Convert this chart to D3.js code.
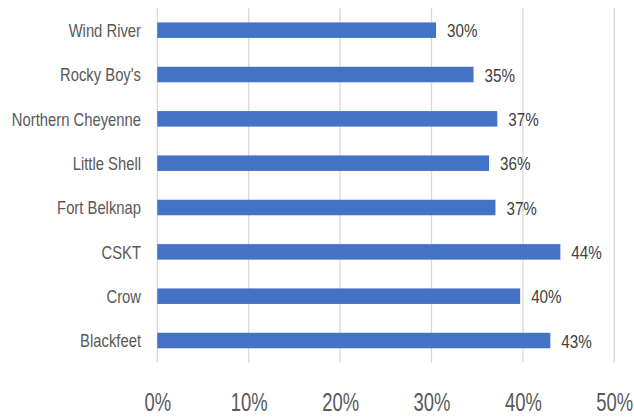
<!DOCTYPE html>
<html><head><meta charset="utf-8">
<script src="https://cdn.jsdelivr.net/npm/d3@7/dist/d3.min.js"></script>
<style>body{margin:0;background:#fff}svg{display:block}</style>
</head><body>
<svg id="c" width="634" height="417"></svg>
<script>
const categories = ["Wind River","Rocky Boy's","Northern Cheyenne","Little Shell","Fort Belknap","CSKT","Crow","Blackfeet"];
const values = [0.305, 0.346, 0.372, 0.363, 0.370, 0.441, 0.397, 0.430];
const valueLabels = ["30%","35%","37%","36%","37%","44%","40%","43%"];
const ticks = [0, 0.1, 0.2, 0.3, 0.4, 0.5];

const FONT = "'Liberation Sans','Arial',sans-serif";
const SX = 0.8; // horizontal condensing to mimic a narrow face
const svg = d3.select("#c");
const x = d3.scaleLinear().domain([0, 0.5]).range([157.3, 614.3]);
const y = d3.scaleBand().domain(categories).range([8, 362.7]).paddingInner(0.65).paddingOuter(0.325);

// gridlines
svg.append("g").selectAll("line").data(ticks).join("line")
  .attr("x1", d => x(d)).attr("x2", d => x(d))
  .attr("y1", 8).attr("y2", 362.7)
  .attr("stroke", "#d9d9d9").attr("stroke-width", 1.3);

// bars
svg.append("g").selectAll("rect").data(categories).join("rect")
  .attr("x", x(0)).attr("y", d => y(d))
  .attr("width", (d, i) => x(values[i]) - x(0))
  .attr("height", y.bandwidth())
  .attr("fill", "#4472C4");

// category labels
svg.append("g").selectAll("text").data(categories).join("text")
  .attr("transform", d => `translate(141,${y(d) + y.bandwidth() / 2}) scale(${SX},1)`)
  .attr("dy", "0.36em").attr("text-anchor", "end")
  .attr("font-family", FONT).attr("font-size", 18.5).attr("fill", "#595959")
  .text(d => d);

// value labels
svg.append("g").selectAll("text").data(categories).join("text")
  .attr("transform", (d, i) => `translate(${x(values[i]) + 11},${y(d) + y.bandwidth() / 2}) scale(${SX},1)`)
  .attr("dy", "0.38em")
  .attr("font-family", FONT).attr("font-size", 19).attr("fill", "#404040")
  .text((d, i) => valueLabels[i]);

// x axis tick labels
const ax = svg.append("g").attr("transform", "translate(0,411)")
  .call(d3.axisBottom(x).tickValues(ticks).tickFormat(d3.format(".0%")).tickSize(0).tickPadding(0));
ax.select(".domain").remove();
ax.selectAll("text").attr("dy", 0).attr("y", 0)
  .attr("transform", `scale(0.71,1)`)
  .attr("font-family", FONT).attr("font-size", 26).attr("fill", "#595959");
</script>
</body></html>
